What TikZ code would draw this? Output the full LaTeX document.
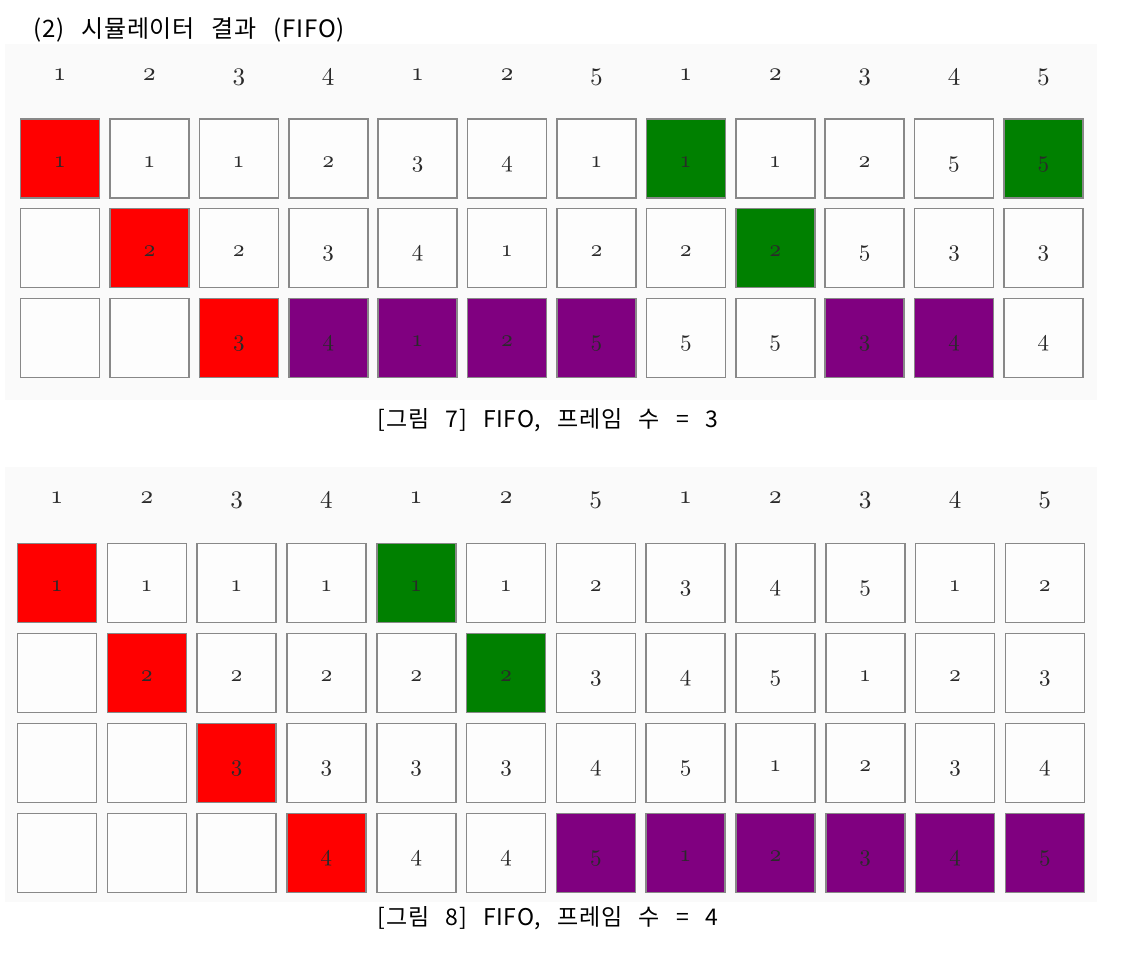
\documentclass[tikz,border=0pt]{standalone}
\usepackage{fontspec}
\newfontfamily\krfont[WordSpace=2.8,LetterSpace=3]{Noto Sans CJK KR}
\newfontfamily\digitfont[Numbers=OldStyle]{lmroman10-regular.otf}

\definecolor{panelgray}{HTML}{FAFAFA}
\definecolor{cellwhite}{HTML}{FDFDFD}
\definecolor{cellgray}{HTML}{888888}
\definecolor{digitgray}{HTML}{2A2A2A}
\definecolor{fifored}{HTML}{FF0000}
\definecolor{fifogreen}{HTML}{008000}
\definecolor{fifopurple}{HTML}{800080}

\tikzset{
  panel/.style={fill=panelgray},
  cell/.style={draw=cellgray, line width=1.6pt, fill=cellwhite, minimum size=79pt, inner sep=0pt,
    text=digitgray, font=\digitfont\fontsize{23}{23}\selectfont, text height=17pt, text depth=0pt},
  plain/.style={},
  new/.style={fill=fifored},
  hit/.style={fill=fifogreen},
  swap/.style={fill=fifopurple},
  head/.style={anchor=base, text=digitgray, font=\digitfont\fontsize{25}{25}\selectfont},
  caption/.style={font=\krfont\fontsize{23}{23}\selectfont},
}

\begin{document}
\begin{tikzpicture}[x=1pt,y=-1pt]

\useasboundingbox[fill=white] (0,0) rectangle (1136,956);

\node[caption, anchor=west, font=\krfont\fontsize{24}{24}\selectfont] (title) at (30,30) {(2) 시뮬레이터 결과 (FIFO)};

% frames = 3
\fill[panel] (5,44) rectangle (1097,400);

\foreach \v [count=\c] in {1,2,3,4,1,2,5,1,2,3,4,5}
  \node[head] (h7-\c) at ({60+89.4*(\c-1)},80) {\v};

\foreach \v/\s [count=\c] in {1/new,1/plain,1/plain,2/plain,3/plain,4/plain,1/plain,1/hit,1/plain,2/plain,5/plain,5/hit}
  \node[cell,\s] (f7-1-\c) at ({60+89.4*(\c-1)},158.5) {\v};
\foreach \v/\s [count=\c] in {/plain,2/new,2/plain,3/plain,4/plain,1/plain,2/plain,2/plain,2/hit,5/plain,3/plain,3/plain}
  \node[cell,\s] (f7-2-\c) at ({60+89.4*(\c-1)},248) {\v};
\foreach \v/\s [count=\c] in {/plain,/plain,3/new,4/swap,1/swap,2/swap,5/swap,5/plain,5/plain,3/swap,4/swap,4/plain}
  \node[cell,\s] (f7-3-\c) at ({60+89.4*(\c-1)},338) {\v};

\node[caption] (cap7) at (548,420) {[그림 7] FIFO, 프레임 수 = 3};

% frames = 4
\fill[panel] (5,467) rectangle (1097,902);

\foreach \v [count=\c] in {1,2,3,4,1,2,5,1,2,3,4,5}
  \node[head] (h8-\c) at ({57+89.8*(\c-1)},503) {\v};

\foreach \v/\s [count=\c] in {1/new,1/plain,1/plain,1/plain,1/hit,1/plain,2/plain,3/plain,4/plain,5/plain,1/plain,2/plain}
  \node[cell,\s] (f8-1-\c) at ({57+89.8*(\c-1)},583) {\v};
\foreach \v/\s [count=\c] in {/plain,2/new,2/plain,2/plain,2/plain,2/hit,3/plain,4/plain,5/plain,1/plain,2/plain,3/plain}
  \node[cell,\s] (f8-2-\c) at ({57+89.8*(\c-1)},673) {\v};
\foreach \v/\s [count=\c] in {/plain,/plain,3/new,3/plain,3/plain,3/plain,4/plain,5/plain,1/plain,2/plain,3/plain,4/plain}
  \node[cell,\s] (f8-3-\c) at ({57+89.8*(\c-1)},763) {\v};
\foreach \v/\s [count=\c] in {/plain,/plain,/plain,4/new,4/plain,4/plain,5/swap,1/swap,2/swap,3/swap,4/swap,5/swap}
  \node[cell,\s] (f8-4-\c) at ({57+89.8*(\c-1)},853) {\v};

\node[caption] (cap8) at (548,918) {[그림 8] FIFO, 프레임 수 = 4};

\end{tikzpicture}
\end{document}
